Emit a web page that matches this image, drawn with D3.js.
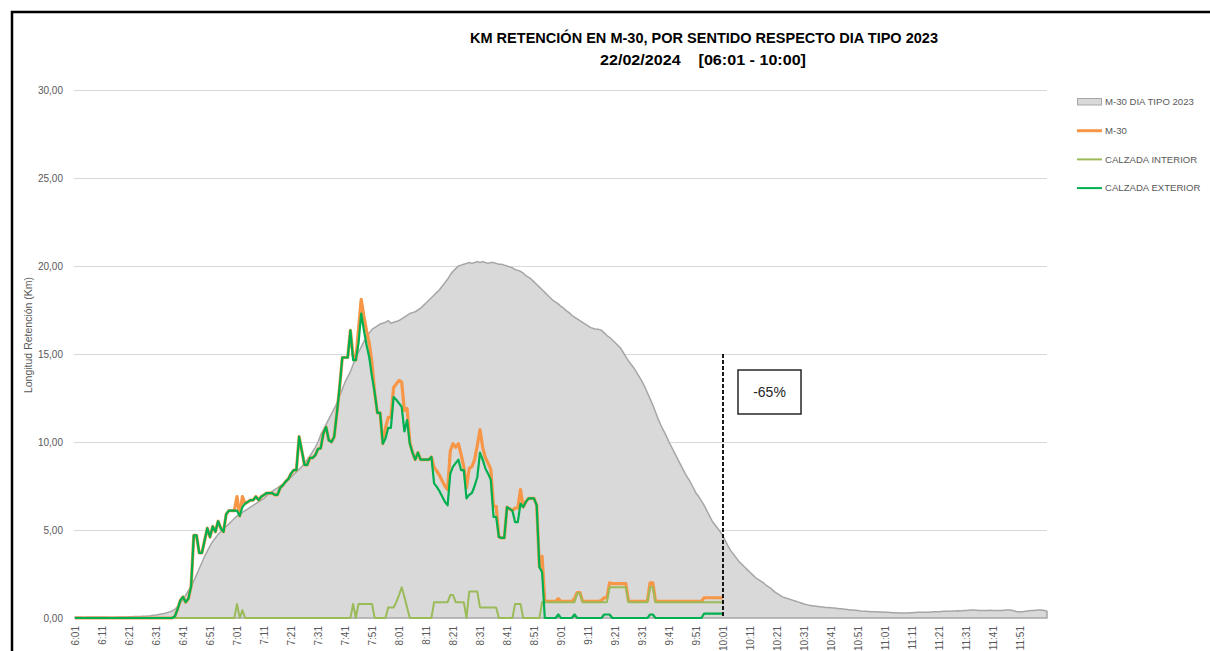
<!DOCTYPE html>
<html><head><meta charset="utf-8">
<script src="https://cdn.jsdelivr.net/npm/d3@7"></script>
<style>body{margin:0;background:#fff;overflow:hidden} svg{display:block}</style>
</head><body><svg id="c" width="1210" height="651"></svg>
<script>
// ---- categories: one per minute, 6:01 .. 12:01
const categories = [];
for (let t = 6*60+1; t <= 12*60+1; t++) categories.push(Math.floor(t/60) + ":" + String(t%60).padStart(2,"0"));

const tickLabels = ["6:01","6:11","6:21","6:31","6:41","6:51","7:01","7:11","7:21","7:31","7:41","7:51",
  "8:01","8:11","8:21","8:31","8:41","8:51","9:01","9:11","9:21","9:31","9:41","9:51",
  "10:01","10:11","10:21","10:31","10:41","10:51","11:01","11:11","11:21","11:31","11:41","11:51"];
const yTicks = [0,5,10,15,20,25,30];

// M-30 DIA TIPO 2023 (area), 6:01..12:01
const diaTipo = [
0.05,0.05,0.05,0.04,0.04,0.05,0.05,0.06,0.05,0.05,
0.05,0.05,0.04,0.04,0.04,0.04,0.05,0.05,0.06,0.06,
0.07,0.07,0.08,0.08,0.09,0.1,0.1,0.12,0.13,0.15,
0.17,0.2,0.23,0.26,0.3,0.35,0.4,0.5,0.65,0.85,
1.05,1.3,1.55,1.8,2.1,2.45,2.8,3.15,3.5,3.8,
4.1,4.35,4.55,4.75,4.9,5.05,5.2,5.35,5.5,5.65,
5.8,5.9,6.0,6.1,6.2,6.3,6.4,6.5,6.6,6.7,
6.8,6.95,7.1,7.2,7.3,7.4,7.5,7.6,7.7,7.85,
8.0,8.15,8.3,8.45,8.6,8.8,9.0,9.2,9.45,9.7,
10.0,10.4,10.7,11.0,11.3,11.6,11.9,12.2,12.6,13.0,
13.4,13.7,14.0,14.4,14.8,15.1,15.4,15.7,16.0,16.2,
16.4,16.5,16.6,16.7,16.75,16.8,16.9,16.75,16.8,16.85,
16.9,17.0,17.1,17.2,17.3,17.35,17.4,17.5,17.6,17.75,
17.9,18.05,18.2,18.35,18.5,18.65,18.85,19.05,19.25,19.5,
19.7,19.85,20.0,20.05,20.1,20.15,20.2,20.15,20.2,20.25,
20.2,20.25,20.2,20.15,20.2,20.2,20.15,20.1,20.1,20.05,
20.0,19.95,19.9,19.8,19.75,19.7,19.6,19.45,19.35,19.25,
19.1,18.95,18.8,18.65,18.5,18.35,18.2,18.05,17.95,17.85,
17.7,17.6,17.45,17.35,17.2,17.1,17.0,16.9,16.8,16.7,
16.6,16.5,16.45,16.4,16.4,16.35,16.2,16.05,15.95,15.8,
15.65,15.5,15.35,15.1,14.85,14.6,14.4,14.2,13.95,13.7,
13.45,13.15,12.8,12.45,12.1,11.7,11.3,10.95,10.65,10.35,
10.0,9.7,9.4,9.1,8.8,8.5,8.2,7.95,7.7,7.4,
7.1,6.9,6.65,6.4,6.1,5.8,5.5,5.3,5.1,4.9,
4.65,4.35,4.05,3.8,3.6,3.4,3.2,3.05,2.9,2.75,
2.6,2.45,2.3,2.2,2.1,2.0,1.85,1.75,1.65,1.5,
1.4,1.3,1.2,1.15,1.1,1.05,1.0,0.95,0.9,0.85,
0.8,0.76,0.72,0.7,0.68,0.66,0.64,0.62,0.6,0.59,
0.58,0.57,0.55,0.53,0.52,0.5,0.48,0.46,0.45,0.44,
0.42,0.4,0.39,0.38,0.37,0.36,0.35,0.35,0.34,0.34,
0.33,0.32,0.31,0.3,0.3,0.29,0.28,0.28,0.29,0.3,
0.3,0.31,0.32,0.33,0.33,0.32,0.33,0.34,0.35,0.35,
0.36,0.37,0.38,0.38,0.39,0.4,0.4,0.41,0.4,0.42,
0.43,0.44,0.45,0.45,0.44,0.43,0.42,0.42,0.43,0.44,
0.43,0.42,0.42,0.43,0.44,0.45,0.45,0.44,0.4,0.35,
0.35,0.36,0.38,0.4,0.42,0.43,0.44,0.45,0.45,0.43,
0.38];

// M-30 (total), 6:01..10:01
const m30 = [
0,0,0,0,0,0,0,0,0,0, 0,0,0,0,0,0,0,0,0,0, 0,0,0,0,0,0,0,0,0,0,
0,0,0,0,0,0,0,0.1,0.5,1.0,
1.2,0.9,1.1,1.8,4.7,4.7,3.7,3.7,4.4,5.1,
4.6,5.2,4.9,5.5,5.1,4.9,5.9,6.1,6.1,6.1,
6.9,5.8,6.9,6.5,6.6,6.7,6.7,6.9,6.7,6.9,
7.0,7.1,7.1,7.1,7.0,7.0,7.4,7.55,7.75,7.9,
8.2,8.4,8.4,10.3,9.5,8.7,8.7,9.1,9.1,9.25,
9.6,9.65,10.5,10.85,10.1,10.0,10.3,11.65,13.1,14.8,
14.8,14.8,16.35,14.9,14.65,16.4,18.1,17.15,16.3,15.6,
14.5,12.8,11.65,11.65,9.9,10.8,11.4,11.4,13.1,13.3,
13.5,13.4,11.8,11.9,10.0,9.4,9.0,9.4,9.0,9.0,
9.0,9.0,9.15,8.55,8.35,8.1,7.8,7.5,7.3,9.5,
9.9,9.7,9.9,9.3,8.6,7.4,8.5,8.6,9.0,9.8,
10.7,9.7,9.1,8.8,8.45,6.35,6.35,4.6,4.55,4.55,
6.3,6.2,6.1,6.25,6.25,7.3,6.3,6.6,6.8,6.8,
6.8,6.4,2.9,3.5,0.95,0.95,0.95,0.95,0.95,1.1,
0.95,0.95,0.95,0.95,0.95,1.1,1.45,1.45,0.95,0.95,
0.95,0.95,0.95,0.95,0.95,1.0,1.15,1.15,2.0,1.95,
1.95,1.95,1.95,1.95,1.95,0.95,0.95,0.95,0.95,0.95,
0.95,0.95,0.95,2.0,2.0,0.95,0.95,0.95,0.95,0.95,
0.95,0.95,0.95,0.95,0.95,0.95,0.95,0.95,0.95,0.95,
0.95,0.95,0.95,1.15,1.15,1.15,1.15,1.15,1.15,1.15,
1.15];

// CALZADA INTERIOR, 6:01..10:01
const interior = [
0,0,0,0,0,0,0,0,0,0, 0,0,0,0,0,0,0,0,0,0, 0,0,0,0,0,0,0,0,0,0,
0,0,0,0,0,0,0,0,0,0, 0,0,0,0,0,0,0,0,0,0, 0,0,0,0,0,0,0,0,0,0,
0.8,0,0.45,0,0,0,0,0,0,0,
0,0,0,0,0,0,0,0,0,0, 0,0,0,0,0,0,0,0,0,0, 0,0,0,0,0,0,0,0,0,0,
0,0,0,0.8,0,0.8,0.8,0.8,0.8,0.8,
0.8,0,0,0,0,0,0.6,0.6,0.6,0.9,
1.3,1.75,1.2,0.6,0,0,0,0,0,0,
0,0,0,0.9,0.9,0.9,0.9,0.9,0.9,1.3,
1.3,0.9,0.9,0.9,0.9,0,1.5,1.5,1.5,1.5,
0.6,0.6,0.6,0.6,0.6,0.6,0.6,0,0,0,
0,0,0,0.8,0.8,0.8,0,0,0,0,
0,0,0,0.9,0.9,0.9,0.9,0.9,0.9,0.9,
0.9,0.9,0.9,0.9,0.9,0.9,1.4,1.4,0.9,0.9,
0.9,0.9,0.9,0.9,0.9,0.9,0.9,0.9,1.75,1.75,
1.75,1.75,1.75,1.75,1.75,0.9,0.9,0.9,0.9,0.9,
0.9,0.9,0.9,1.75,1.75,0.9,0.9,0.9,0.9,0.9,
0.9,0.9,0.9,0.9,0.9,0.9,0.9,0.9,0.9,0.9,
0.9,0.9,0.9,0.9,0.9,0.9,0.9,0.9,0.9,0.9,
0.9];

// CALZADA EXTERIOR, 6:01..10:01
const exterior = [
0,0,0,0,0,0,0,0,0,0, 0,0,0,0,0,0,0,0,0,0, 0,0,0,0,0,0,0,0,0,0,
0,0,0,0,0,0,0,0.1,0.5,1.0,
1.2,0.9,1.1,1.8,4.7,4.7,3.7,3.7,4.4,5.1,
4.6,5.2,4.9,5.5,5.1,4.9,5.9,6.1,6.1,6.1,
6.1,5.8,6.3,6.5,6.6,6.7,6.7,6.9,6.7,6.9,
7.0,7.1,7.1,7.1,7.0,7.0,7.4,7.55,7.75,7.9,
8.2,8.4,8.4,10.3,9.5,8.7,8.7,9.1,9.1,9.25,
9.6,9.65,10.5,10.85,10.1,10.0,10.3,11.65,13.1,14.8,
14.8,14.8,16.35,14.65,14.65,15.6,17.3,16.35,15.5,14.8,
13.7,12.8,11.65,11.65,9.9,10.2,10.8,10.8,12.55,12.4,
12.2,12.0,10.6,11.25,9.9,9.4,9.0,9.4,9.0,9.0,
9.0,9.0,9.15,7.65,7.45,7.2,6.9,6.6,6.4,8.2,
8.6,8.8,9.0,8.4,8.4,6.8,7.0,7.1,7.5,8.0,
9.4,9.0,8.5,8.2,7.85,5.75,5.75,4.6,4.55,4.55,
6.3,6.2,6.1,5.45,5.45,6.5,6.3,6.6,6.8,6.8,
6.8,6.4,2.9,2.6,0,0,0,0,0,0.2,
0,0,0,0,0,0.2,0,0,0,0,
0,0,0,0,0,0,0.2,0.2,0.2,0,
0,0,0,0,0,0,0,0,0,0,
0,0,0,0.2,0.2,0,0,0,0,0,
0,0,0,0,0,0,0,0,0,0,
0,0,0,0.25,0.25,0.25,0.25,0.25,0.25,0.25,
0.25];

const titleLine1 = "KM RETENCIÓN EN M-30, POR SENTIDO RESPECTO DIA TIPO 2023";
const titleLine2 = "22/02/2024    [06:01 - 10:00]";
const yTitle = "Longitud Retención (Km)";
const annotation = "-65%";
const markerLabel = "10:01";
const markerTop = 15;

const legendItems = [
  {name:"M-30 DIA TIPO 2023", type:"area"},
  {name:"M-30", type:"line", color:"#F79646", w:3},
  {name:"CALZADA INTERIOR", type:"line", color:"#9BBB59", w:2},
  {name:"CALZADA EXTERIOR", type:"line", color:"#00B050", w:2}
];

// ---- drawing
const svg = d3.select("#c");
const FONT = "'Liberation Sans', Arial, sans-serif";
const x = d3.scalePoint().domain(categories).range([75, 1047]);
const y = d3.scaleLinear().domain([0, 30]).range([618, 90]);

// frame
svg.append("rect").attr("x",12).attr("y",12).attr("width",1300).attr("height",800)
  .attr("fill","none").attr("stroke","#000").attr("stroke-width",2.5);

// gridlines
svg.append("g").selectAll("line").data(yTicks.filter(d=>d>0)).join("line")
  .attr("x1",74).attr("x2",1047).attr("y1",d=>y(d)+0.5).attr("y2",d=>y(d)+0.5)
  .attr("stroke","#D9D9D9").attr("stroke-width",1);

// y axis labels
const yAx = svg.append("g").attr("transform","translate(75,0)")
  .call(d3.axisLeft(y).tickValues(yTicks).tickSize(0).tickPadding(12)
  .tickFormat(d => d3.format(".2f")(d).replace(".", ",")));
yAx.select(".domain").remove();
yAx.selectAll("text").attr("font-family",FONT).attr("font-size",10).attr("fill","#595959");

// area
const area = d3.area().x((d,i)=>x(categories[i])).y0(y(0)).y1(d=>y(d));
svg.append("path").datum(diaTipo).attr("d",area)
  .attr("fill","#D9D9D9").attr("stroke","#A6A6A6").attr("stroke-width",1.5).attr("stroke-linejoin","round");

// lines
const line = d3.line().x((d,i)=>x(categories[i])).y(d=>y(d));
[[m30,"#F79646",3.2],[interior,"#9BBB59",2],[exterior,"#00B050",2.2]].forEach(([data,c,w])=>{
  svg.append("path").datum(data).attr("d",line).attr("fill","none")
    .attr("stroke",c).attr("stroke-width",w).attr("stroke-linejoin","round");
});

// x axis labels
const xAx = svg.append("g").attr("transform","translate(0,618)")
  .call(d3.axisBottom(x).tickValues(tickLabels).tickSize(0).tickPadding(0));
xAx.select(".domain").remove();
xAx.selectAll("text").attr("font-family",FONT).attr("font-size",10).attr("fill","#595959")
  .attr("transform","rotate(-90)").attr("text-anchor","end")
  .attr("x",-8).attr("y",0).attr("dy","0.35em");

// y title
svg.append("text").attr("transform","translate(32,335) rotate(-90)")
  .attr("text-anchor","middle").attr("font-family",FONT).attr("font-size",10.5)
  .attr("fill","#595959").text(yTitle);

// dashed marker
svg.append("line").attr("x1",x(markerLabel)).attr("x2",x(markerLabel))
  .attr("y1",y(markerTop)).attr("y2",y(0))
  .attr("stroke","#000").attr("stroke-width",1.8).attr("stroke-dasharray","4,2");

// annotation box
svg.append("rect").attr("x",738).attr("y",370).attr("width",63).attr("height",44)
  .attr("fill","#fff").attr("stroke","#262626").attr("stroke-width",1.5);
svg.append("text").attr("x",769.5).attr("y",397).attr("text-anchor","middle")
  .attr("font-family",FONT).attr("font-size",14).attr("fill","#262626").text(annotation);

// title
svg.append("text").attr("x",704).attr("y",43).attr("text-anchor","middle")
  .attr("font-family",FONT).attr("font-weight","bold").attr("font-size",14)
  .attr("textLength",468).attr("lengthAdjust","spacingAndGlyphs").attr("fill","#000").text(titleLine1);
svg.append("text").attr("x",703).attr("y",65).attr("text-anchor","middle")
  .attr("font-family",FONT).attr("font-weight","bold").attr("font-size",14)
  .style("white-space","pre")
  .attr("textLength",206).attr("lengthAdjust","spacingAndGlyphs").attr("fill","#000").text(titleLine2);

// legend
const lg = svg.append("g");
legendItems.forEach((it,i)=>{
  const cy = 102 + i*28.7;
  if (it.type==="area") {
    lg.append("rect").attr("x",1077.5).attr("y",cy-3.5).attr("width",24).attr("height",6.5)
      .attr("fill","#D9D9D9").attr("stroke","#A6A6A6").attr("stroke-width",1);
  } else {
    lg.append("line").attr("x1",1077).attr("x2",1102).attr("y1",cy).attr("y2",cy)
      .attr("stroke",it.color).attr("stroke-width",it.w);
  }
  lg.append("text").attr("x",1105).attr("y",cy).attr("dy","0.35em")
    .attr("font-family",FONT).attr("font-size",9.6).attr("fill","#595959").text(it.name);
});
</script></body></html>
